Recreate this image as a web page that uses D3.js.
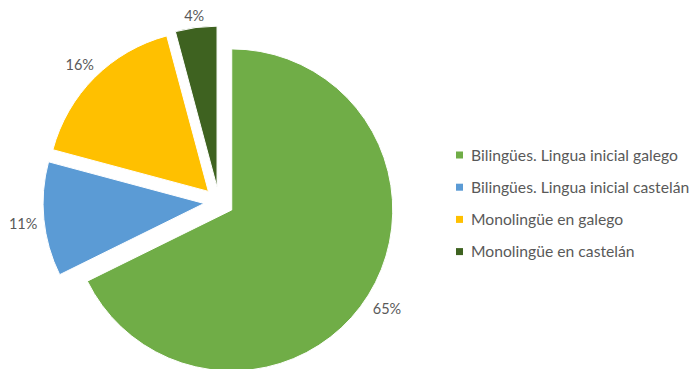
<!DOCTYPE html>
<html>
<head>
<meta charset="utf-8">
<script src="https://cdn.jsdelivr.net/npm/d3@7/dist/d3.min.js"></script>
<style>
  html, body { margin: 0; padding: 0; background: #fff; }
  svg { display: block; }
</style>
</head>
<body>
<svg id="chart" width="692" height="369"></svg>
<script>
// Lingua inicial / monolingüismo (%)
const categories = [
  "Bilingües. Lingua inicial galego",
  "Bilingües. Lingua inicial castelán",
  "Monolingüe en galego",
  "Monolingüe en castelán"
];
const values = [65, 11, 16, 4];
const colors = ["#70AD47", "#5B9BD5", "#FFC000", "#3E6220"];

const W = 692, H = 369;
const cx = 219, cy = 202;       // pie centre
const radius = 161;
const explode = 15;             // radial offset of every slice
const labelPad = 6;
const labelFont = "Lato, 'Open Sans', sans-serif";

const svg = d3.select("#chart");

const data = categories.map((c, i) => ({ name: c, value: values[i], color: colors[i] }));

const pie = d3.pie().value(d => d.value).sort(null).startAngle(0).endAngle(2 * Math.PI);
const arc = d3.arc().innerRadius(0).outerRadius(radius);
const arcs = pie(data);

const g = svg.append("g").attr("transform", `translate(${cx},${cy})`);

const slice = g.selectAll("g.slice").data(arcs).join("g")
  .attr("class", "slice")
  .attr("transform", d => {
    const a = (d.startAngle + d.endAngle) / 2;
    return `translate(${Math.sin(a) * explode},${-Math.cos(a) * explode})`;
  });

slice.append("path")
  .attr("d", arc)
  .attr("fill", d => d.data.color)
  .attr("stroke", "#fff")
  .attr("stroke-width", 1);

// value labels just outside each slice
slice.append("text")
  .attr("font-family", labelFont)
  .attr("font-size", 14.5)
  .attr("fill", "#595959")
  .attr("text-anchor", "middle")
  .attr("dy", "0.36em")
  .text(d => d.data.value + "%")
  .each(function (d) {
    const a = (d.startAngle + d.endAngle) / 2;
    const ux = Math.sin(a), uy = -Math.cos(a);
    const w = this.getComputedTextLength(), h = 14;
    const dist = radius + labelPad + Math.abs(ux) * w / 2 + Math.abs(uy) * h / 2;
    d3.select(this).attr("x", ux * dist).attr("y", uy * dist + 2.5);
  });

// legend
const legendX = 456, legendY0 = 155, legendStep = 32.2;
const legend = svg.append("g");
const rows = legend.selectAll("g").data(data).join("g")
  .attr("transform", (d, i) => `translate(${legendX},${legendY0 + i * legendStep})`);
rows.append("rect")
  .attr("x", 0).attr("y", -3.5).attr("width", 7).attr("height", 7)
  .attr("fill", d => d.color);
const legText = rows.append("text")
  .attr("x", 15).attr("y", 0)
  .attr("dy", "0.35em")
  .attr("font-family", labelFont)
  .attr("fill", "#595959")
  .attr("font-size", 100)
  .text(d => d.name);
// size the legend text so the first entry spans ~207px
const ref = legText.nodes()[0].getComputedTextLength();
legText.attr("font-size", 100 * 207 / ref);
</script>
</body>
</html>
